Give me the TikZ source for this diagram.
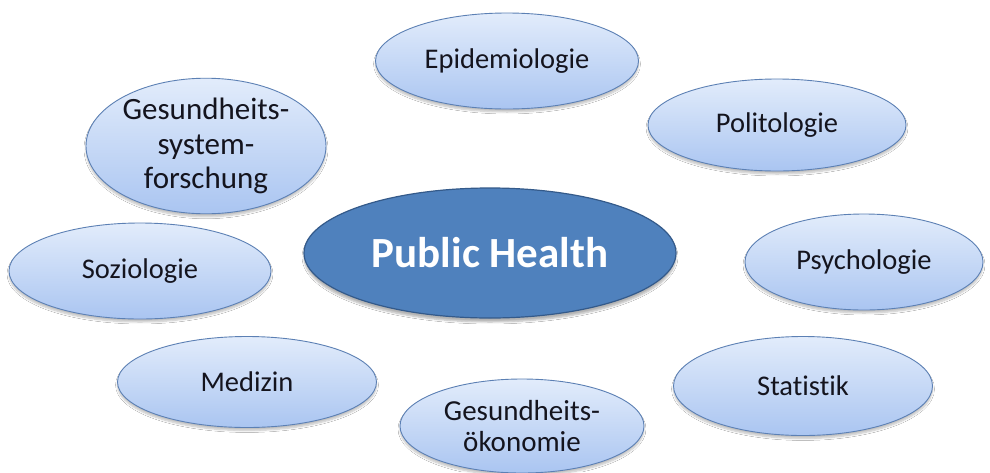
\documentclass[tikz,border=0pt]{standalone}
\usepackage{fontspec}
\setmainfont[Ligatures=CommonOff]{Carlito}
\usetikzlibrary{shapes.geometric,shadows.blur}
\definecolor{topic}{RGB}{226,236,251}
\definecolor{topicdeep}{RGB}{170,197,241}
\definecolor{topicline}{RGB}{92,128,180}
\definecolor{core}{RGB}{79,129,189}
\definecolor{coreline}{RGB}{52,90,138}
\definecolor{labelink}{RGB}{20,20,30}
\tikzset{
  field/.style={ellipse, inner sep=0pt, draw=topicline, line width=0.9pt,
    top color=topic, bottom color=topicdeep, text=labelink,
    font=\fontsize{28.5}{31}\selectfont, align=center,
    blur shadow={shadow xshift=0pt, shadow yshift=-3pt, shadow blur steps=6, shadow opacity=25}},
  corefield/.style={ellipse, inner sep=0pt, draw=coreline, line width=1.2pt,
    fill=core, text=white, font=\bfseries\fontsize{43}{45}\selectfont,
    blur shadow={shadow xshift=0pt, shadow yshift=-4pt, shadow blur steps=6, shadow opacity=30}}
}
\begin{document}
\begin{tikzpicture}[x=1pt,y=-1pt]
\useasboundingbox[fill=white] (0,0) rectangle (990,472);
\node[corefield, minimum width=372pt, minimum height=130pt] (ph) at (490,253) {Public Health};
\node[field, minimum width=263pt, minimum height=96pt] (epi) at (507,61) {Epidemiologie};
\node[field, minimum width=258pt, minimum height=92pt] (pol) at (777,125) {Politologie};
\node[field, minimum width=240pt, minimum height=120pt, font=\fontsize{31}{34.5}\selectfont] (gsf) at (206,146) {Gesundheits-\\system-\\forschung};
\node[field, minimum width=262pt, minimum height=96pt] (soz) at (140,271) {Soziologie};
\node[field, minimum width=238pt, minimum height=96pt] (psy) at (864,262) {Psychologie};
\node[field, minimum width=259pt, minimum height=91pt] (med) at (247,382) {Medizin};
\node[field, minimum width=259pt, minimum height=99pt] (sta) at (803,386) {Statistik};
\node[field, minimum width=244pt, minimum height=94pt, font=\fontsize{29}{31.5}\selectfont] (oek) at (522,426) {Gesundheits-\\ökonomie};
\end{tikzpicture}
\end{document}
